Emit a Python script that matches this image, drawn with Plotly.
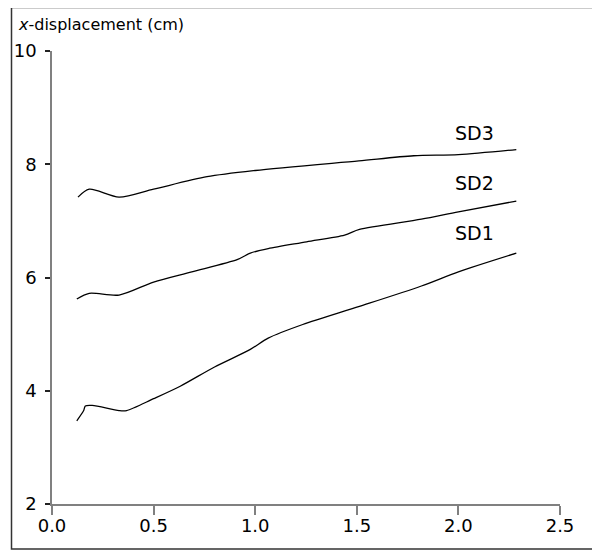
import plotly.graph_objects as go

# Data
sd1_x = [0.122, 0.156, 0.164, 0.198, 0.33, 0.367, 0.5, 0.631, 0.80, 0.976, 1.064, 1.234, 1.513, 1.818, 2.0, 2.285]
sd1_y = [3.47, 3.65, 3.73, 3.74, 3.65, 3.65, 3.86, 4.08, 4.42, 4.73, 4.93, 5.17, 5.49, 5.85, 6.10, 6.43]

sd2_x = [0.122, 0.183, 0.33, 0.5, 0.688, 0.914, 0.976, 1.064, 1.253, 1.44, 1.513, 1.818, 2.0, 2.285]
sd2_y = [5.62, 5.72, 5.69, 5.92, 6.10, 6.32, 6.43, 6.51, 6.63, 6.75, 6.85, 7.03, 7.16, 7.35]

sd3_x = [0.128, 0.183, 0.33, 0.5, 0.763, 1.0, 1.51, 1.78, 2.0, 2.285]
sd3_y = [7.42, 7.56, 7.42, 7.56, 7.78, 7.89, 8.06, 8.15, 8.17, 8.26]

labels = ["SD1", "SD2", "SD3"]
label_x = [2.08, 2.08, 2.08]
label_y = [6.79, 7.67, 8.56]

x_ticks = [0.0, 0.5, 1.0, 1.5, 2.0, 2.5]
x_ticktext = ["0.0", "0.5", "1.0", "1.5", "2.0", "2.5"]
y_ticks = [2, 4, 6, 8, 10]

FONT = "DejaVu Sans"
FS_TITLE = 16
FS_TICK = 18
FS_LABEL = 19

# the page body adds an 8 px offset; positions below are figure coords
OFF = 8
L, T = 52 - OFF, 51 - OFF
W, H = 600 - OFF, 552 - OFF
pw, ph = 508, 453
R, B = W - L - pw, H - T - ph

def px_x(p):  # page pixel -> paper x
    return (p - OFF - L) / pw

def px_y(p):  # page pixel -> paper y
    return (T + ph - (p - OFF)) / ph

fig = go.Figure()
for xs, ys in [(sd1_x, sd1_y), (sd2_x, sd2_y), (sd3_x, sd3_y)]:
    fig.add_trace(go.Scatter(x=xs, y=ys, mode="lines",
                             line=dict(color="black", width=1.3, shape="spline", smoothing=0.8),
                             showlegend=False, hoverinfo="skip"))

for t, lx, ly in zip(labels, label_x, label_y):
    fig.add_annotation(x=lx, y=ly, xref="x", yref="y", text=t, showarrow=False,
                       font=dict(family=FONT, size=FS_LABEL, color="black"),
                       xanchor="center", yanchor="middle")

fig.add_annotation(x=px_x(16), y=px_y(25), xref="paper", yref="paper",
                   text="<i>x</i>-displacement (cm)", showarrow=False,
                   font=dict(family=FONT, size=FS_TITLE, color="black"),
                   xanchor="left", yanchor="middle")

fig.add_shape(type="rect", xref="paper", yref="paper",
              x0=px_x(11.5), x1=px_x(597.5),
              y0=px_y(549), y1=px_y(7.5),
              line=dict(color="#333333", width=1.5), fillcolor="rgba(0,0,0,0)")

fig.update_layout(
    width=W, height=H,
    margin=dict(l=L, r=R, t=T, b=B, pad=0, autoexpand=False),
    paper_bgcolor="white", plot_bgcolor="white",
    font=dict(family=FONT, size=FS_TICK, color="black"),
    xaxis=dict(range=[0, 2.5], tickvals=x_ticks, ticktext=x_ticktext, automargin=False,
               showgrid=False, zeroline=False, showline=True, linecolor="#808080", linewidth=1.5,
               ticks="outside", ticklen=9, tickwidth=1.5, tickcolor="#808080",
               ticklabelstandoff=-4,
               tickfont=dict(family=FONT, size=FS_TICK, color="black")),
    yaxis=dict(range=[2, 10], tickvals=y_ticks, automargin=False,
               showgrid=False, zeroline=False, showline=True, linecolor="#808080", linewidth=1.5,
               ticks="outside", ticklen=5, tickwidth=1.5, tickcolor="#222222",
               ticklabelstandoff=5,
               tickfont=dict(family=FONT, size=FS_TICK, color="black")),
)

fig.write_html("out.html")
